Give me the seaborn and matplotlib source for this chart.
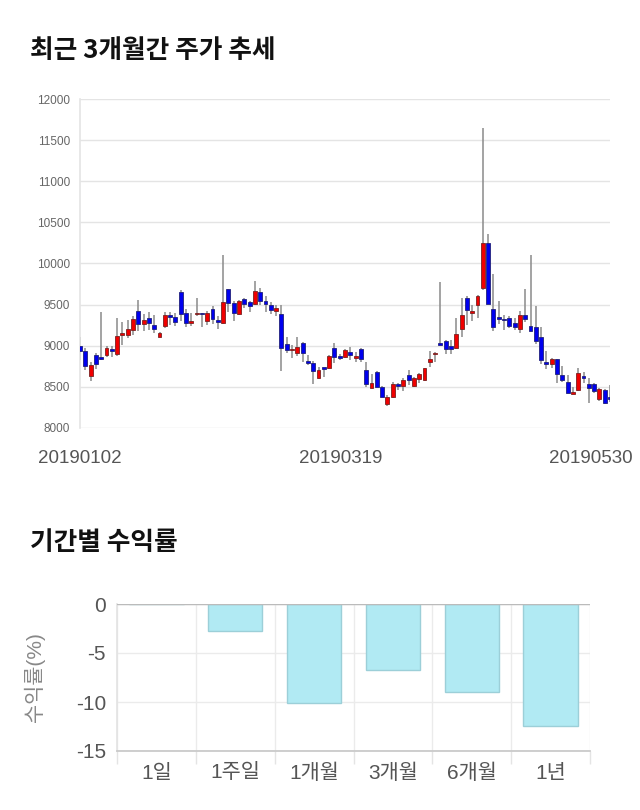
import numpy as np
import pandas as pd
import matplotlib
matplotlib.use("Agg")
import matplotlib.pyplot as plt
import matplotlib.transforms as mtransforms
import seaborn as sns

# ---------------- data ----------------
holidays = ['2019-02-04', '2019-02-05', '2019-02-06', '2019-03-01', '2019-05-01', '2019-05-06']
dates = pd.bdate_range('2019-01-02', '2019-05-30', freq='C', holidays=holidays)
date_labels = [d.strftime('%Y%m%d') for d in dates]

opens = [9000, 8935, 8630, 8882, 8866, 8886, 8955, 8898, 9130, 9126,
         9195, 9427, 9260, 9333, 9256, 9110, 9240, 9374, 9354, 9659,
         9402, 9272, 9382, 9402, 9301, 9451, 9305, 9272, 9691, 9524,
         9390, 9565, 9533, 9512, 9654, 9545, 9500, 9419, 9386, 9020,
         8943, 8911, 9037, 8817, 8793, 8602, 8724, 8728, 8976, 8870,
         8862, 8923, 8850, 8955, 8707, 8492, 8675, 8504, 8297, 8378,
         8537, 8516, 8642, 8508, 8598, 8581, 8797, 8894, 9033, 9057,
         9000, 8967, 9199, 9581, 9398, 9492, 9703, 10252, 9451, 9350,
         9325, 9341, 9272, 9199, 9374, 9240, 9224, 9106, 8793, 8781,
         8837, 8646, 8557, 8419, 8459, 8622, 8537, 8537, 8350, 8463,
         8374]
closes = [8935, 8752, 8768, 8780, 8842, 8976, 8931, 9122, 9138, 9207,
          9329, 9260, 9309, 9272, 9199, 9150, 9378, 9350, 9285, 9390,
          9272, 9305, 9402, 9382, 9402, 9321, 9289, 9533, 9520, 9394,
          9541, 9512, 9480, 9667, 9541, 9504, 9431, 9463, 8972, 8943,
          8963, 8988, 8911, 8789, 8691, 8711, 8715, 8878, 8862, 8850,
          8943, 8882, 8866, 8833, 8541, 8545, 8504, 8382, 8378, 8533,
          8512, 8581, 8589, 8606, 8654, 8724, 8842, 8911, 9012, 8959,
          8959, 9142, 9374, 9431, 9427, 9602, 10252, 9512, 9232, 9329,
          9309, 9240, 9232, 9374, 9329, 9179, 9053, 8829, 8776, 8833,
          8658, 8581, 8431, 8435, 8671, 8610, 8492, 8455, 8472, 8309,
          8358]
highs = [9102, 8972, 8797, 8911, 9406, 8992, 8992, 9337, 9285, 9317,
         9358, 9561, 9390, 9415, 9378, 9163, 9415, 9415, 9398, 9675,
         9447, 9398, 9581, 9402, 9419, 9480, 9358, 10102, 9691, 9541,
         9561, 9581, 9541, 9785, 9703, 9602, 9528, 9496, 9492, 9106,
         9012, 9102, 9045, 8890, 8809, 8736, 8728, 8890, 9033, 8898,
         8959, 8984, 8919, 8972, 8805, 8655, 8687, 8512, 8402, 8565,
         8545, 8606, 8707, 8626, 8667, 8728, 8939, 8923, 9772, 9073,
         9073, 9337, 9581, 9610, 9500, 9618, 11646, 10354, 9874, 9541,
         9378, 9366, 9337, 9423, 9695, 10102, 9480, 9228, 8931, 8854,
         8837, 8748, 8646, 8496, 8728, 8675, 8606, 8545, 8484, 8472,
         8524]
lows = [8829, 8707, 8577, 8715, 8829, 8862, 8862, 8870, 9004, 9094,
        9134, 9175, 9175, 9195, 9154, 9102, 9211, 9256, 9236, 9297,
        9224, 9236, 9358, 9228, 9256, 9268, 9203, 9260, 9406, 9297,
        9378, 9459, 9406, 9500, 9500, 9407, 9390, 9358, 8699, 8911,
        8846, 8870, 8797, 8768, 8532, 8593, 8618, 8715, 8789, 8821,
        8850, 8829, 8797, 8797, 8504, 8484, 8496, 8374, 8272, 8370,
        8463, 8455, 8524, 8504, 8545, 8573, 8740, 8797, 9008, 8902,
        8902, 8959, 9106, 9256, 9297, 9341, 9675, 9512, 9175, 9268,
        9187, 9216, 9195, 9154, 9285, 9179, 9024, 8776, 8715, 8728,
        8545, 8565, 8423, 8411, 8455, 8545, 8309, 8423, 8329, 8289,
        8321]
price_ticks = [8000, 8500, 9000, 9500, 10000, 10500, 11000, 11500, 12000]
shown_dates = ['20190102', '20190319', '20190530']

periods = ['1일', '1주일', '1개월', '3개월', '6개월', '1년']
returns = [0.0, -2.75, -10.1, -6.7, -9.0, -12.45]
return_ticks = [0, -5, -10, -15]

title1 = '최근 3개월간 주가 추세'
title2 = '기간별 수익률'
ylabel2 = '수익률(%)'

# ---------------- style ----------------
sns.set_theme(style='white')
plt.rcParams['font.family'] = ['Liberation Sans', 'Noto Sans CJK KR', 'DejaVu Sans']

fig = plt.figure(figsize=(6.4, 8.1), dpi=100)

# ---------------- candlestick chart ----------------
ax1 = fig.add_axes([80 / 640, 1 - 428 / 810, 530 / 640, 329 / 810])
n = len(opens)
x = np.arange(n)
o = np.array(opens, float)
c = np.array(closes, float)
h = np.array(highs, float)
l = np.array(lows, float)
up = c >= o
body_bottom = np.minimum(o, c)
body_height = np.maximum(np.abs(c - o), 22)

ax1.vlines(x, l, h, color='#8a8a8a', linewidth=1.1, zorder=2)
ax1.bar(x[up], body_height[up], bottom=body_bottom[up], width=0.72,
        color='#f00000', edgecolor='#7a2020', linewidth=0.6, zorder=3)
ax1.bar(x[~up], body_height[~up], bottom=body_bottom[~up], width=0.72,
        color='#0000ee', edgecolor='#20207a', linewidth=0.6, zorder=3)

ax1.set_xlim(0, n - 1)
ax1.set_ylim(price_ticks[0], price_ticks[-1])
ax1.set_yticks(price_ticks)
ax1.set_yticklabels([str(t) for t in price_ticks], fontsize=8.5, color='#666666')
tick_pos = [date_labels.index(d) if d in date_labels else 0 for d in shown_dates]
ax1.set_xticks(tick_pos)
ax1.set_xticklabels(shown_dates, fontsize=13.5, color='#555555')
ax1.tick_params(axis='x', length=0, pad=16)
ax1.tick_params(axis='y', length=0, pad=7)
ax1.grid(axis='y', color='#e4e4e4', linewidth=1)
ax1.grid(axis='x', visible=False)
for s in ['top', 'right', 'bottom']:
    ax1.spines[s].set_visible(False)
ax1.spines['left'].set_color('#e4e4e4')
ax1.spines['left'].set_linewidth(1.2)
ax1.set_axisbelow(True)
lbl = ax1.get_xticklabels()[-1]
lbl.set_transform(lbl.get_transform() + mtransforms.ScaledTranslation(-0.19, 0, fig.dpi_scale_trans))
lbl = ax1.get_xticklabels()[1]
lbl.set_transform(lbl.get_transform() + mtransforms.ScaledTranslation(-0.04, 0, fig.dpi_scale_trans))

# ---------------- returns bar chart ----------------
ax2 = fig.add_axes([117 / 640, 1 - 751 / 810, 473 / 640, 147 / 810])
df = pd.DataFrame({'period': periods, 'ret': returns})
sns.barplot(data=df, x='period', y='ret', color='#b1eaf3', saturation=1,
            edgecolor='#9ccfd8', linewidth=1, width=0.69, ax=ax2, zorder=3)
ax2.set_xlim(-0.5, len(periods) - 0.5)
ax2.set_ylim(return_ticks[-1], return_ticks[0])
ax2.set_yticks(return_ticks)
ax2.set_yticklabels([str(t) for t in return_ticks], fontsize=15, color='#555555')
ax2.set_xticks(range(len(periods)))
ax2.set_xticklabels(periods, fontsize=15, color='#555555')
ax2.set_xticks(np.arange(len(periods) + 1) - 0.5, minor=True)
ax2.tick_params(axis='x', which='major', length=0, pad=9)
ax2.tick_params(axis='x', which='minor', length=9, color='#e4e4e4', width=1, bottom=True)
ax2.tick_params(axis='y', length=0, pad=8)
ax2.grid(axis='y', color='#ebebeb', linewidth=1)
ax2.grid(axis='x', which='minor', color='#ebebeb', linewidth=1)
ax2.grid(axis='x', which='major', visible=False)
ax2.axhline(0, color='#bbbbbb', linewidth=1, zorder=4)
for s in ['top', 'right']:
    ax2.spines[s].set_visible(False)
ax2.spines['bottom'].set_color('#c8c8c8')
ax2.spines['left'].set_color('#e4e4e4')
ax2.set_xlabel('')
ax2.set_ylabel(ylabel2, fontsize=15, color='#888888')
ax2.yaxis.set_label_coords(-0.152, 0.5)
ax2.set_axisbelow(True)

# ---------------- titles ----------------
fig.text(30 / 640, 1 - 50 / 810, title1, fontsize=18.5, fontweight='bold',
         color='#111111', va='center', ha='left', family=['Noto Sans CJK KR', 'DejaVu Sans'])
fig.text(30 / 640, 1 - 543 / 810, title2, fontsize=18.5, fontweight='bold',
         color='#111111', va='center', ha='left', family=['Noto Sans CJK KR', 'DejaVu Sans'])

fig.savefig('out.png', dpi=100)
